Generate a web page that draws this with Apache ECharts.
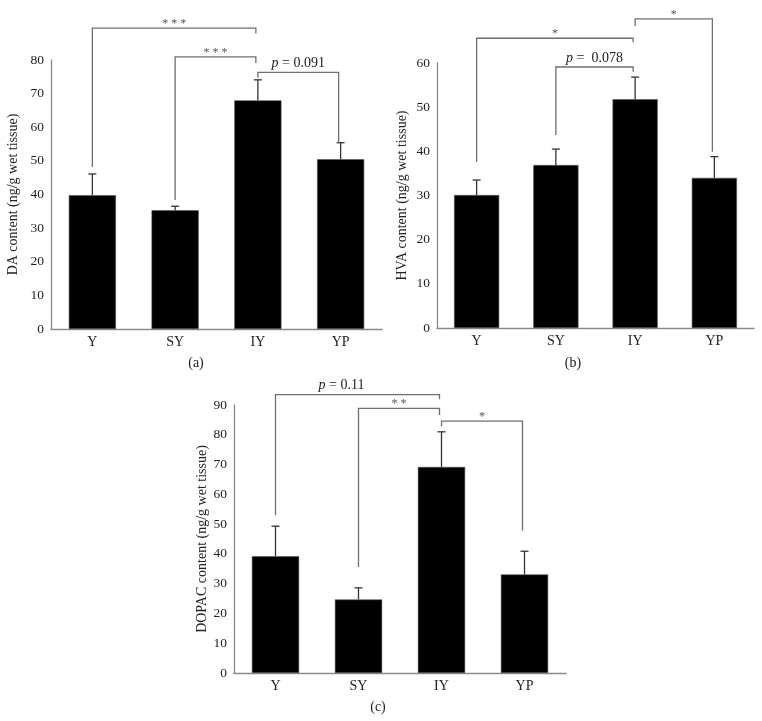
<!DOCTYPE html>
<html>
<head>
<meta charset="utf-8">
<script src="https://cdn.jsdelivr.net/npm/echarts@6/dist/echarts.min.js"></script>
<style>
  html, body { margin: 0; padding: 0; background: #fff; }
  #main { width: 762px; height: 721px; }
</style>
</head>
<body>
<div id="main"></div>
<script>
  // groups on the x axis
  const groups = ['Y', 'SY', 'IY', 'YP'];

  // (a) DA content, mean and SD
  const daMean = [39.8, 35.3, 68.0, 50.5];
  const daSd = [6.3, 1.2, 6.1, 4.9];
  // (b) HVA content
  const hvaMean = [30.1, 36.9, 51.8, 34.0];
  const hvaSd = [3.4, 3.6, 5.0, 4.8];
  // (c) DOPAC content
  const dopacMean = [39.2, 24.7, 69.2, 33.1];
  const dopacSd = [10.1, 3.9, 11.8, 7.8];

  // significance brackets: [from group, to group, bar level, left end, right end]
  const daBrackets = [[0, 2, 89.5, 48.2, 87.9], [1, 2, 80.9, 38.4, 79.1], [2, 3, 76.3, 74.7, 55.4]];
  const daLabels = ['* * *', '* * *', 'p = 0.091'];
  const hvaBrackets = [[0, 2, 65.6, 37.6, 64.7], [1, 2, 59.1, 43.7, 58.0], [2, 3, 70.0, 68.3, 39.9]];
  const hvaLabels = ['*', 'p =  0.078', '*'];
  const dopacBrackets = [[0, 2, 93.5, 53.0, 91.9], [1, 2, 88.9, 35.6, 86.6], [2, 3, 84.6, 82.9, 47.8]];
  const dopacLabels = ['p = 0.11', '* *', '*'];

  const serif = 'Liberation Serif';
  const axisGrey = '#8a8a8a';

  let myChart = echarts.init(document.getElementById('main'));

  function errorSeries(idx, mean, sd) {
    return {
      type: 'custom',
      xAxisIndex: idx,
      yAxisIndex: idx,
      z: 5,
      data: mean.map((m, i) => [i, m, m + sd[i]]),
      renderItem: function (params, api) {
        let p0 = api.coord([api.value(0), api.value(1)]);
        let p1 = api.coord([api.value(0), api.value(2)]);
        let style = { stroke: '#333', lineWidth: 1.3 };
        return {
          type: 'group',
          children: [
            { type: 'line', shape: { x1: p0[0], y1: p0[1], x2: p1[0], y2: p1[1] }, style: style },
            { type: 'line', shape: { x1: p1[0] - 4, y1: p1[1], x2: p1[0] + 4, y2: p1[1] }, style: style }
          ]
        };
      }
    };
  }

  function bracketSeries(idx, brackets, labels) {
    return {
      type: 'custom',
      xAxisIndex: idx,
      yAxisIndex: idx,
      z: 6,
      clip: false,
      data: brackets,
      renderItem: function (params, api) {
        let a = api.value(0), b = api.value(1);
        let top = api.value(2);
        let pl = api.coord([a, api.value(3)]);
        let pr = api.coord([b, api.value(4)]);
        let ptl = api.coord([a, top]);
        let xl = pl[0], xr = pr[0] - 2;
        let yTop = ptl[1];
        let label = labels[params.dataIndex];
        let isP = label.indexOf('p') === 0;
        let text = isP ? '{i|p}' + label.slice(1) : label;
        // the long p = 0.11 label sits left of the bracket middle
        let tx = (xl + xr) / 2 + (isP && b - a > 1 ? -16 : 0);
        return {
          type: 'group',
          children: [
            {
              type: 'polyline',
              shape: { points: [[xl, pl[1]], [xl, yTop], [xr, yTop], [xr, pr[1]]] },
              style: { stroke: '#6f6f6f', lineWidth: 1.3, fill: null }
            },
            {
              type: 'text',
              x: tx,
              y: isP ? yTop - 2 : yTop + 2,
              style: {
                text: text,
                align: 'center',
                verticalAlign: 'bottom',
                fontFamily: serif,
                fontSize: isP ? 14 : 12,
                fill: isP ? '#222' : '#555',
                rich: { i: { fontStyle: 'italic', fontFamily: serif, fontSize: 14, fill: '#222' } }
              }
            }
          ]
        };
      }
    };
  }

  function xAxisOf(idx) {
    return {
      type: 'category',
      gridIndex: idx,
      data: groups,
      axisTick: { show: false },
      axisLine: { lineStyle: { color: axisGrey, width: 1.3 } },
      axisLabel: { color: '#222', fontFamily: serif, fontSize: 14, margin: 6 }
    };
  }

  function yAxisOf(idx, max, name, gap) {
    return {
      type: 'value',
      gridIndex: idx,
      min: 0,
      max: max,
      interval: 10,
      name: name,
      nameLocation: 'middle',
      nameGap: gap,
      nameTextStyle: { color: '#222', fontFamily: serif, fontSize: 14 },
      splitLine: { show: false },
      axisTick: { show: false },
      axisLine: { show: true, lineStyle: { color: axisGrey, width: 1.3 } },
      axisLabel: { color: '#222', fontFamily: serif, fontSize: 13.5, margin: 7 }
    };
  }

  function barSeries(idx, mean) {
    return {
      type: 'bar',
      xAxisIndex: idx,
      yAxisIndex: idx,
      barWidth: '57%',
      itemStyle: { color: '#000', borderColor: '#555', borderWidth: 0.6 },
      data: mean
    };
  }

  let option = {
    animation: false,
    backgroundColor: '#fff',
    grid: [
      { left: 51, top: 60, width: 331, height: 269 },
      { left: 437, top: 63, width: 317, height: 265 },
      { left: 234, top: 405, width: 332, height: 268 }
    ],
    xAxis: [xAxisOf(0), xAxisOf(1), xAxisOf(2)],
    yAxis: [
      yAxisOf(0, 80, 'DA content (ng/g wet tissue)', 31),
      yAxisOf(1, 60, 'HVA content (ng/g wet tissue)', 28),
      yAxisOf(2, 90, 'DOPAC content (ng/g wet tissue)', 24)
    ],
    graphic: [
      { type: 'text', x: 196, y: 363, style: { text: '(a)', align: 'center', verticalAlign: 'middle', fontFamily: serif, fontSize: 14, fill: '#222' } },
      { type: 'text', x: 573, y: 363, style: { text: '(b)', align: 'center', verticalAlign: 'middle', fontFamily: serif, fontSize: 14, fill: '#222' } },
      { type: 'text', x: 378, y: 707, style: { text: '(c)', align: 'center', verticalAlign: 'middle', fontFamily: serif, fontSize: 14, fill: '#222' } }
    ],
    series: [
      barSeries(0, daMean),
      errorSeries(0, daMean, daSd),
      bracketSeries(0, daBrackets, daLabels),
      barSeries(1, hvaMean),
      errorSeries(1, hvaMean, hvaSd),
      bracketSeries(1, hvaBrackets, hvaLabels),
      barSeries(2, dopacMean),
      errorSeries(2, dopacMean, dopacSd),
      bracketSeries(2, dopacBrackets, dopacLabels)
    ]
  };

  myChart.setOption(option);
</script>
</body>
</html>
